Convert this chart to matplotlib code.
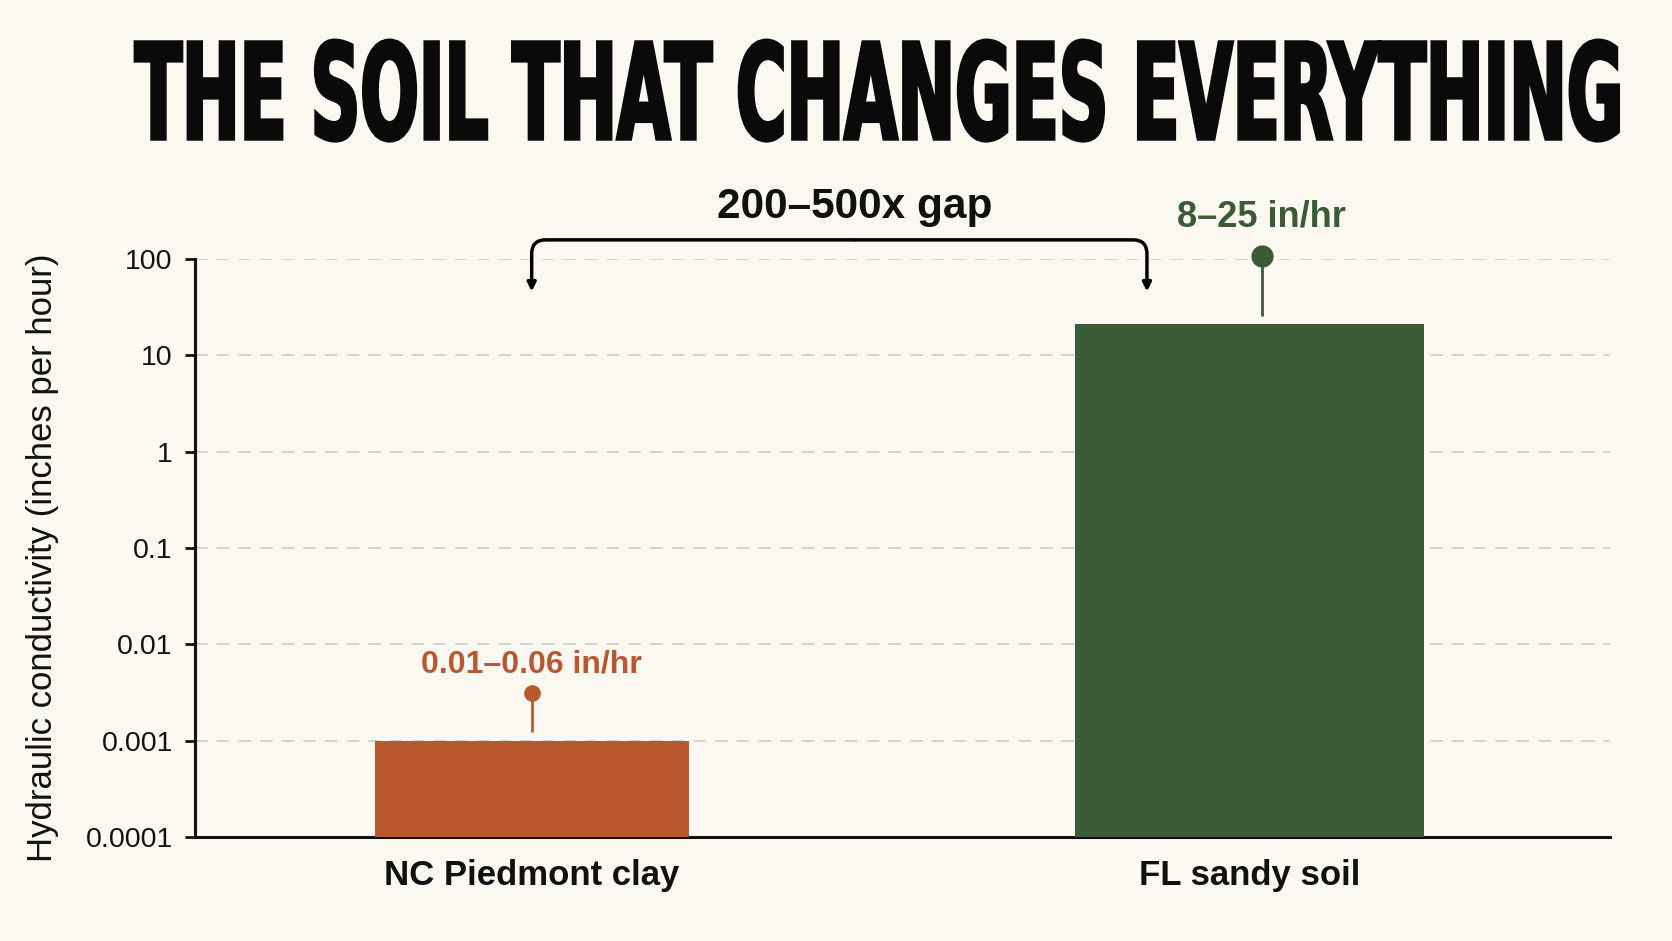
import matplotlib
matplotlib.use("Agg")
import matplotlib.pyplot as plt
from matplotlib.patheffects import AbstractPathEffect
from matplotlib.transforms import Affine2D

# ---------------- data ----------------
categories = ["NC Piedmont clay", "FL sandy soil"]
conductivity = [0.001, 21.0]                 # bar heights (in/hr)
range_labels = ["0.01\u20130.06 in/hr", "8\u201325 in/hr"]
marker_values = [0.0031, 108.0]              # lollipop dot values
stem_bottoms = [0.00122, 25.5]               # lollipop stem start values
label_values = [0.0062, 270.0]               # range label vertical positions
gap_label = "200\u2013500x gap"
yticks = [0.0001, 0.001, 0.01, 0.1, 1, 10, 100]
ytick_labels = ["0.0001", "0.001", "0.01", "0.1", "1", "10", "100"]
title = "THE SOIL THAT CHANGES EVERYTHING"
ylabel = "Hydraulic conductivity (inches per hour)"

# ---------------- style ----------------
BG = "#FBF8F1"
colors = ["#B95830", "#3B5A36"]
bar_widths = [0.437, 0.487]
marker_x_offsets = [0.0, 0.017]
marker_sizes = [12, 16]
FONT = "Liberation Sans"
YMIN = 1e-4

W, H, DPI = 1672, 941, 100


class StretchEffect(AbstractPathEffect):
    """Scale rendered glyph paths around an anchor (display px) and optionally embolden."""

    def __init__(self, sx, sy, origin, stroke=0.0):
        super().__init__()
        self.sx, self.sy, self.origin, self.stroke = sx, sy, origin, stroke

    def draw_path(self, renderer, gc, tpath, affine, rgbFace=None):
        ox, oy = self.origin
        t = affine + Affine2D().translate(-ox, -oy).scale(self.sx, self.sy).translate(ox, oy)
        gc0 = renderer.new_gc()
        gc0.copy_properties(gc)
        if self.stroke > 0:
            gc0.set_linewidth(self.stroke)
            gc0.set_foreground(rgbFace)
            gc0.set_joinstyle("miter")
        renderer.draw_path(gc0, tpath, t, rgbFace)
        gc0.restore()


fig = plt.figure(figsize=(W / DPI, H / DPI), dpi=DPI, facecolor=BG)
ax = fig.add_axes([195 / W, 1 - 837 / H, (1610 - 195) / W, (837 - 259) / H])
ax.set_facecolor(BG)

x = list(range(len(categories)))
ax.set_yscale("log")
ax.set_ylim(YMIN, 100)
ax.set_xlim(-0.469, 1.502)

ax.bar(x, [c - YMIN for c in conductivity], width=bar_widths, color=colors,
       bottom=YMIN, zorder=3)

# grid
for yv in yticks[1:]:
    ax.axhline(yv, color="#D2D0CB", lw=1.3, ls=(0, (7, 5)), zorder=1)

# lollipops + range labels
for i in x:
    xm = i + marker_x_offsets[i]
    ax.plot([xm, xm], [stem_bottoms[i], marker_values[i]], color=colors[i], lw=2,
            zorder=4, clip_on=False, solid_capstyle="butt")
    ax.plot([xm], [marker_values[i]], "o", ms=marker_sizes[i], color=colors[i],
            zorder=5, clip_on=False, markeredgewidth=0)

ax.text(0, label_values[0], range_labels[0], color=colors[0], ha="center", va="center",
        fontsize=23, fontweight="bold", family=FONT, zorder=6)
ax.text(1 + marker_x_offsets[1], label_values[1], range_labels[1], color=colors[1],
        ha="center", va="center", fontsize=26, fontweight="bold", family=FONT,
        zorder=6, clip_on=False)

# bracket
top_y = 158
for xe in (0.0, 0.857):
    ax.annotate("", xy=(xe, 46), xytext=(0.45, top_y),
                arrowprops=dict(arrowstyle="-|>,head_length=0.5,head_width=0.25",
                                connectionstyle="angle,angleA=0,angleB=90,rad=14",
                                color="black", lw=2.5, shrinkA=0, shrinkB=0),
                annotation_clip=False)
ax.text(0.45, 350, gap_label, ha="center", va="center", fontsize=30.5,
        fontweight="bold", family=FONT, color="#111111")

# axes styling
for s in ("top", "right"):
    ax.spines[s].set_visible(False)
for s in ("left", "bottom"):
    ax.spines[s].set_linewidth(2.2)
    ax.spines[s].set_color("#111111")
ax.set_yticks(yticks)
ax.set_yticklabels(ytick_labels, fontsize=20.5, family=FONT, color="#111111")
ax.yaxis.set_minor_locator(matplotlib.ticker.NullLocator())
ax.tick_params(axis="y", length=7, width=2, pad=9, color="#111111")
ax.set_xticks(x)
ax.set_xticklabels(categories, fontsize=25, fontweight="bold", family=FONT, color="#111111")
ax.tick_params(axis="x", length=0, pad=16)

fig.text(43 / W, 1 - 558 / H, ylabel, rotation=90, ha="center", va="center",
         fontsize=25, family=FONT, color="#111111")

# title (heavy condensed look via vertical path stretch)
tx, ty = 880, H - 139
fs0 = 48
t = fig.text(tx / W, ty / H, title, ha="center", va="baseline", fontsize=fs0,
             fontweight="bold", family="DejaVu Sans", color="#0A0A0A")
fig.canvas.draw()
bb = t.get_window_extent()
fs = fs0 * 1490 / bb.width
t.set_fontsize(fs)
fig.canvas.draw()
bb = t.get_window_extent()
sx = 1490 / bb.width
cap_px = 0.729 * fs * DPI / 72
sy = 97 / cap_px
t.set_path_effects([StretchEffect(sx, sy, (tx, ty), stroke=2.5)])

fig.savefig("out.png", dpi=DPI, facecolor=BG)
